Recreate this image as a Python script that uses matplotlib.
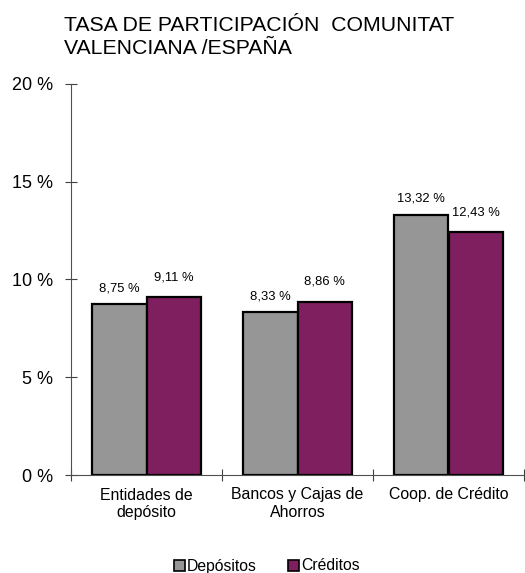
import numpy as np
import matplotlib
matplotlib.use('Agg')
import matplotlib.pyplot as plt
from matplotlib.patches import Patch

plt.rcParams['font.family'] = ['Liberation Sans', 'DejaVu Sans']

categorias = ['Entidades de\ndepósito', 'Bancos y Cajas de\nAhorros', 'Coop. de Crédito']
depositos = [8.75, 8.33, 13.32]
creditos = [9.11, 8.86, 12.43]
series = ['Depósitos', 'Créditos']
colores = ['#969696', '#7F1F5F']
yticks = [0, 5, 10, 15, 20]

fig = plt.figure(figsize=(5.25, 5.73), dpi=100)
ax = fig.add_axes([71 / 525, 1 - 475 / 573, 453 / 525, 391 / 573])

x = np.arange(len(categorias))
w = 0.36
b1 = ax.bar(x - w / 2, depositos, w, color=colores[0], edgecolor='black', linewidth=1.6)
b2 = ax.bar(x + w / 2, creditos, w, color=colores[1], edgecolor='black', linewidth=1.6)

# etiquetas de valor (las de créditos van algo más altas, como en el original)
for barras, vals, dy in ((b1, depositos, 7), (b2, creditos, 10)):
    for r, v in zip(barras, vals):
        ax.annotate(('%.2f %%' % v).replace('.', ','),
                    (r.get_x() + r.get_width() / 2, v),
                    xytext=(0, dy), textcoords='offset points',
                    ha='center', va='bottom', fontsize=9.4)

ax.set_ylim(0, 20)
ax.set_xlim(-0.5, len(categorias) - 0.5)
ax.set_yticks(yticks)
ax.set_yticklabels(['%d %%' % t for t in yticks], fontsize=13)
ax.set_xticks(np.arange(len(categorias) + 1) - 0.5)
ax.set_xticklabels([])
ax.set_xticks(x, minor=True)
ax.set_xticklabels(categorias, minor=True, fontsize=11.4)
ax.tick_params(axis='y', direction='inout', length=8, width=0.8, color='#404040', pad=9)
ax.tick_params(axis='x', which='major', direction='inout', length=8, width=0.8, color='#404040')
ax.tick_params(axis='x', which='minor', length=0, pad=9)

for s in ('top', 'right'):
    ax.spines[s].set_visible(False)
for s in ('left', 'bottom'):
    ax.spines[s].set_color('#505050')
    ax.spines[s].set_linewidth(0.8)

fig.text(64 / 525, 1 - 16 / 573, 'TASA DE PARTICIPACIÓN  COMUNITAT\nVALENCIANA /ESPAÑA',
         ha='left', va='top', fontsize=15.3, linespacing=1.3)

handles = [Patch(facecolor=c, edgecolor='black', linewidth=1.2) for c in colores]
fig.legend(handles, series, loc='center', bbox_to_anchor=(267 / 525, 1 - 566 / 573),
           ncol=2, frameon=False, fontsize=11.3, handlelength=0.7, handleheight=0.7,
           handletextpad=0.15, columnspacing=2.0, borderpad=0)

fig.savefig('out.png', dpi=100)
